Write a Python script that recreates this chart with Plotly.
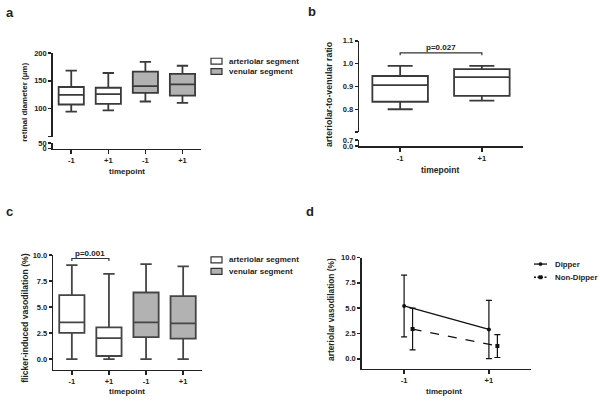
import plotly.graph_objects as go

W, H = 600, 403
FONT = "Arial, Liberation Sans, sans-serif"

# ---------------- data ----------------
tick_labels_4 = ["-1", "+1", "-1", "+1"]
tick_labels_2 = ["-1", "+1"]
segment_names = ["arteriolar segment", "venular segment"]
group_names = ["Dipper", "Non-Dipper"]

# panel a: retinal diameter (µm)
a_art_q1 = [107.6, 108.8]
a_art_med = [124.7, 126.0]
a_art_q3 = [138.9, 137.6]
a_art_lo = [94.7, 97.0]
a_art_hi = [168.4, 164.0]
a_ven_q1 = [128.3, 123.5]
a_ven_med = [140.6, 143.6]
a_ven_q3 = [166.6, 162.4]
a_ven_lo = [113.0, 110.6]
a_ven_hi = [184.0, 177.0]

# panel b: arteriolar-to-venular ratio
b_q1 = [0.833, 0.859]
b_med = [0.906, 0.941]
b_q3 = [0.946, 0.976]
b_lo = [0.800, 0.838]
b_hi = [0.990, 0.990]

# panel c: flicker-induced vasodilation (%)
c_art_q1 = [2.53, 0.31]
c_art_med = [3.53, 2.03]
c_art_q3 = [6.15, 3.06]
c_art_lo = [0.0, 0.0]
c_art_hi = [9.03, 8.18]
c_ven_q1 = [2.12, 1.97]
c_ven_med = [3.53, 3.44]
c_ven_q3 = [6.40, 6.06]
c_ven_lo = [0.0, 0.0]
c_ven_hi = [9.12, 8.90]

# panel d: arteriolar vasodilation (%)
d_dip_mean = [5.22, 2.90]
d_dip_err = [3.05, 2.87]
d_non_mean = [2.94, 1.26]
d_non_err = [2.06, 1.13]
d_offset = 0.1

# ---------------- helpers ----------------
def X(px):
    return px / W

def Y(py):
    return 1 - py / H

LINE = "#3a3a3a"
GRAY = "#b2b2b2"
TXT = "#222222"

fig = go.Figure()

def box(xs, q1, med, q3, lo, hi, fill, name, xa, ya, lc=LINE):
    fig.add_trace(go.Box(
        x=xs, q1=q1, median=med, q3=q3, lowerfence=lo, upperfence=hi,
        fillcolor=fill, line=dict(color=lc, width=1.8), width=0.68,
        whiskerwidth=0.45, boxpoints=False, name=name,
        xaxis=xa, yaxis=ya, showlegend=False, hoverinfo="skip"))

# panel a
box([0, 1], a_art_q1, a_art_med, a_art_q3, a_art_lo, a_art_hi, "white",
    segment_names[0], "x", "y")
box([2, 3], a_ven_q1, a_ven_med, a_ven_q3, a_ven_lo, a_ven_hi, GRAY,
    segment_names[1], "x", "y")
# lower (broken) part of the y axis in panel a
fig.add_trace(go.Scatter(x=[], y=[], xaxis="x", yaxis="y2", showlegend=False,
                         hoverinfo="skip"))
# panel b
box([0, 1], b_q1, b_med, b_q3, b_lo, b_hi, "white", "ratio", "x2", "y3")
fig.add_trace(go.Scatter(x=[], y=[], xaxis="x2", yaxis="y4", showlegend=False,
                         hoverinfo="skip"))
# panel c
box([0, 1], c_art_q1, c_art_med, c_art_q3, c_art_lo, c_art_hi, "white",
    segment_names[0], "x3", "y5", "#454545")
box([2, 3], c_ven_q1, c_ven_med, c_ven_q3, c_ven_lo, c_ven_hi, GRAY,
    segment_names[1], "x3", "y5", "#454545")
# panel d
fig.add_trace(go.Scatter(
    x=[0, 1], y=d_dip_mean, mode="lines+markers", name=group_names[0],
    line=dict(color="#111111", width=1.3),
    marker=dict(symbol="circle", size=4, color="#111111"),
    error_y=dict(type="data", array=d_dip_err, color="#111111", thickness=1.2, width=3),
    xaxis="x4", yaxis="y6", showlegend=False, hoverinfo="skip"))
fig.add_trace(go.Scatter(
    x=[v + d_offset for v in [0, 1]], y=d_non_mean, mode="lines+markers",
    name=group_names[1],
    line=dict(color="#111111", width=1.3, dash="dash"),
    marker=dict(symbol="square", size=4, color="#111111"),
    error_y=dict(type="data", array=d_non_err, color="#111111", thickness=1.2, width=3),
    xaxis="x4", yaxis="y6", showlegend=False, hoverinfo="skip"))

tickfont = dict(family=FONT, size=7.5, color=TXT, weight="bold")
common = dict(showline=True, linecolor="#222222", linewidth=1.5, ticks="outside",
              tickwidth=1.5, tickcolor="#222222", showgrid=False,
              zeroline=False, tickfont=tickfont, fixedrange=True)
xcommon = dict(common, ticklen=4)
ycommon = dict(common, ticklen=3)

fig.update_layout(
    width=W, height=H, margin=dict(l=0, r=0, t=0, b=0),
    paper_bgcolor="white", plot_bgcolor="rgba(0,0,0,0)",
    boxmode="overlay", showlegend=False, hovermode=False,
    font=dict(family=FONT, color=TXT),
    # panel a
    xaxis=dict(domain=[X(52.7), X(201)], range=[-0.5, 3.5], anchor="y2",
               tickvals=[0, 1, 2, 3], ticktext=tick_labels_4, **xcommon),
    yaxis=dict(domain=[Y(135.7), Y(50)], range=[50, 200], anchor="x",
               tickvals=[50, 100, 150, 200], ticktext=["", "100", "150", "200"], **ycommon),
    yaxis2=dict(domain=[Y(148), Y(142.3)], range=[0, 50], anchor="x",
                tickvals=[0, 50], ticktext=["0", "50"], **ycommon),
    # panel b
    xaxis2=dict(domain=[X(359.3), X(522.7)], range=[-0.5, 1.5], anchor="y4",
                tickvals=[0, 1], ticktext=tick_labels_2, **xcommon),
    yaxis3=dict(domain=[Y(131), Y(37.7)], range=[0.7, 1.1], anchor="x2",
                tickvals=[0.7, 0.8, 0.9, 1.0, 1.1], ticktext=["", "0.8", "0.9", "1.0", "1.1"], **ycommon),
    yaxis4=dict(domain=[Y(145.5), Y(139.3)], range=[0, 0.7], anchor="x2",
                tickvals=[0, 0.7], ticktext=["0.0", "0.7"], **ycommon),
    # panel c
    xaxis3=dict(domain=[X(53.3), X(201.7)], range=[-0.5, 3.5], anchor="y5",
                tickvals=[0, 1, 2, 3], ticktext=tick_labels_4, **xcommon),
    yaxis5=dict(domain=[Y(374), Y(256.7)], range=[-1, 10], anchor="x3",
                tickvals=[0, 2.5, 5, 7.5, 10], tickformat=".1f", **ycommon),
    # panel d
    xaxis4=dict(domain=[X(361.7), X(531.3)], range=[-0.5, 1.5], anchor="y6",
                tickvals=[0, 1], ticktext=tick_labels_2, **xcommon),
    yaxis6=dict(domain=[Y(373.3), Y(259.3)], range=[-1, 10], anchor="x4",
                tickvals=[0, 2.5, 5, 7.5, 10], tickformat=".1f", **ycommon),
)

def ann(text, x, y, size, bold=True, angle=0, xanchor="center"):
    fig.add_annotation(text=text, x=X(x), y=Y(y), xref="paper", yref="paper",
                       showarrow=False, textangle=angle, xanchor=xanchor, yanchor="middle",
                       borderpad=0,
                       font=dict(family=FONT, size=size, color=TXT,
                                 weight="bold" if bold else "normal"))

# panel letters
ann("a", 5, 9, 13, xanchor="left")
ann("b", 307, 8, 13, xanchor="left")
ann("c", 5, 212, 13, xanchor="left")
ann("d", 305, 212, 13, xanchor="left")

# axis titles
ann("retinal diameter (µm)", 25, 101, 8, angle=-90)
ann("timepoint", 127, 171, 8)
ann("arteriolar-to-venular ratio", 329, 92, 8.8, angle=-90)
ann("timepoint", 440, 170, 8.5)
ann("flicker-induced vasodilation (%)", 25, 321, 8.6, angle=-90)
ann("timepoint", 127, 396, 8)
ann("arteriolar vasodilation (%)", 331, 313, 8.4, angle=-90)
ann("timepoint", 444, 396, 8)

# significance brackets
fig.add_shape(type="path", xref="x2", yref="y3",
              path="M 0,1.037 L 0,1.047 L 1,1.047 L 1,1.037",
              line=dict(color="#333333", width=1.2))
fig.add_annotation(text="p=0.027", x=0.5, y=1.047, xref="x2", yref="y3",
                   showarrow=False, yanchor="bottom", yshift=-1,
                   font=dict(family=FONT, size=8, color=TXT, weight="bold"))
fig.add_shape(type="path", xref="x3", yref="y5",
              path="M 0,9.43 L 0,9.66 L 1,9.66 L 1,9.43",
              line=dict(color="#333333", width=1.2))
fig.add_annotation(text="p=0.001", x=0.5, y=9.66, xref="x3", yref="y5",
                   showarrow=False, yanchor="bottom", yshift=-1,
                   font=dict(family=FONT, size=8, color=TXT, weight="bold"))

# legends (drawn by hand to match the compact spacing)
def legend_box(y0, y1, fill, text):
    fig.add_shape(type="rect", xref="paper", yref="paper",
                  x0=X(211), x1=X(222), y0=Y(y1), y1=Y(y0),
                  line=dict(color="#333333", width=1.2), fillcolor=fill)
    ann(text, 228, (y0 + y1) / 2, 8, xanchor="left")

legend_box(55.5, 61.5, "white", segment_names[0])
legend_box(66, 72, GRAY, segment_names[1])
legend_box(258.7, 264.7, "white", segment_names[0])
legend_box(270.5, 276.5, GRAY, segment_names[1])

def legend_line(y, dash, symbol, text):
    fig.add_shape(type="line", xref="paper", yref="paper",
                  x0=X(534), x1=X(547), y0=Y(y), y1=Y(y),
                  line=dict(color="#111111", width=1.3, dash=dash))
    kind = "circle" if symbol == "circle" else "rect"
    fig.add_shape(type=kind, xref="paper", yref="paper",
                  x0=X(538.8), x1=X(542.2), y0=Y(y + 1.7), y1=Y(y - 1.7),
                  line=dict(color="#111111", width=0.5), fillcolor="#111111")
    ann(text, 554, y, 7.8, xanchor="left")

legend_line(266, "solid", "circle", group_names[0])
legend_line(279.5, "2px,1.5px", "square", group_names[1])

# remove the browser's default 8px page margin so the figure fills the window
fig.write_html("out.html", config={"displayModeBar": False, "staticPlot": True},
               post_script="document.body.style.margin='0';")
